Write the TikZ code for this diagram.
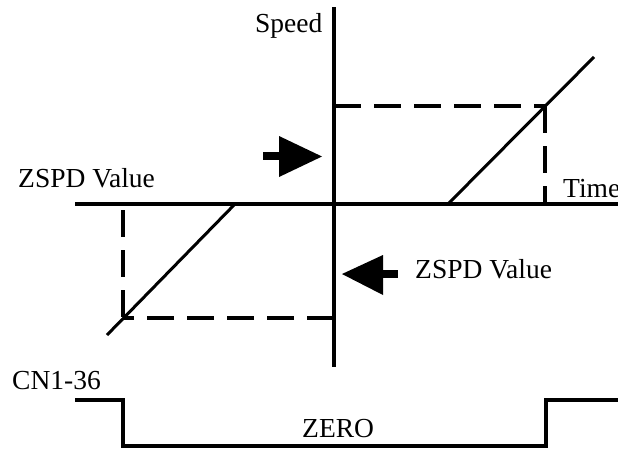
\documentclass[tikz,border=0pt]{standalone}
\usepackage{fontspec}
\setmainfont{Liberation Serif}
\begin{document}
\begin{tikzpicture}[x=1pt,y=-1pt,
  lbl/.style={inner sep=0pt,anchor=base west,font=\fontsize{27.5}{32}\selectfont},
  axis/.style={line width=3.1pt},
  dsh/.style={line width=3.4pt,dash pattern=on 27pt off 13pt},
  ramp/.style={line width=3pt},
  pulse/.style={line width=3.3pt},
  blk/.style={fill=black,draw=none}]
\useasboundingbox (0,0) rectangle (618,448);
\clip (0,0) rectangle (618,448);
% axes
\coordinate (vtop) at (334,7);
\coordinate (vbot) at (334,367);
\coordinate (hl) at (75,204);
\coordinate (hr) at (618,204);
\draw[axis] (vtop) -- (vbot);
\draw[axis] (hl) -- (hr);
% upper ramp
\coordinate (ur0) at (448,204);
\coordinate (ur1) at (594,57);
\coordinate (uc) at (545,106);
\coordinate (ua) at (334,106);
\coordinate (ub) at (545,204);
\draw[ramp] (ur0) -- (ur1);
\draw[dsh] (ua) -- (uc);
\draw[dsh] (uc) -- (ub);
% lower ramp
\coordinate (lr0) at (235,204);
\coordinate (lr1) at (107,335);
\coordinate (lc) at (123,318);
\coordinate (la) at (334,318);
\coordinate (lb) at (123,210);
\draw[ramp] (lr0) -- (lr1);
\draw[dsh] (la) -- (lc);
\draw[dsh] (lb) -- (lc);
% arrows
\fill[blk] (263,152) rectangle (281,160);
\fill[blk] (279,136) -- (322,156.5) -- (279,177) -- cycle;
\fill[blk] (381,270) rectangle (398,278);
\fill[blk] (383,255) -- (342,274) -- (383,295) -- cycle;
% pulse
\coordinate (p0) at (75,400);
\coordinate (p1) at (123,400);
\coordinate (p2) at (123,446);
\coordinate (p3) at (546,446);
\coordinate (p4) at (546,400);
\coordinate (p5) at (620,400);
\draw[pulse] (p0) -- (p1) -- (p2) -- (p3) -- (p4) -- (p5);
% labels
\node[lbl] (speed) at (255,32) {Speed};
\node[lbl] (zl) at (18,187) {ZSPD Value};
\node[lbl] (zr) at (415,278) {ZSPD Value};
\node[lbl] (time) at (563,197) {Time};
\node[lbl] (cn) at (12,389) {CN1-36};
\node[lbl] (zero) at (302,437) {ZERO};
\end{tikzpicture}
\end{document}
